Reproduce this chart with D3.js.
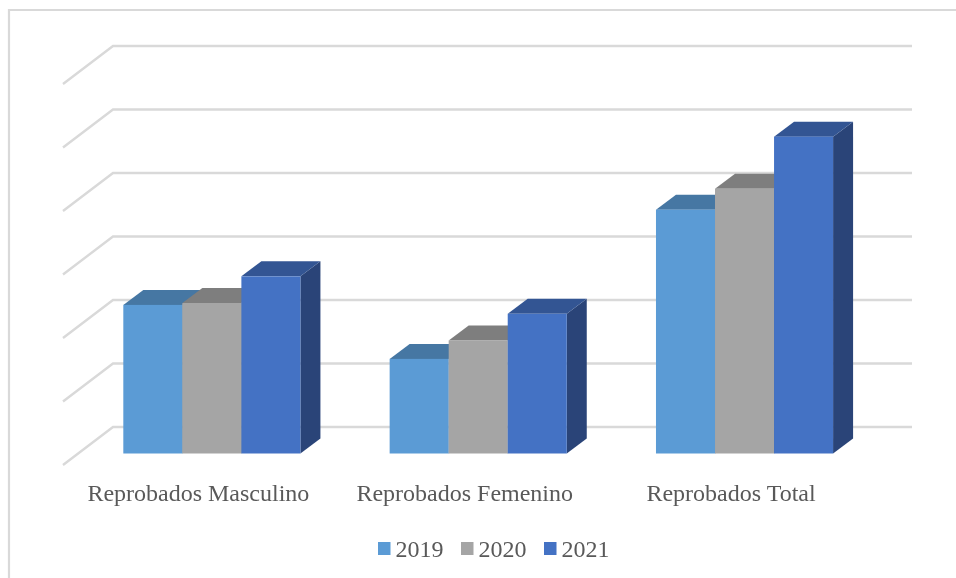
<!DOCTYPE html>
<html><head><meta charset="utf-8">
<style>html,body{margin:0;padding:0;background:#fff}svg{display:block;filter:blur(0.4px)}text{font-family:"Liberation Serif",serif;fill:#595959}</style>
<script src="https://cdn.jsdelivr.net/npm/d3@7/dist/d3.min.js"></script>
</head><body><script>
const categories = ["Reprobados Masculino","Reprobados Femenino","Reprobados Total"];
const seriesNames = ["2019","2020","2021"];
const values2019 = [2.34,1.49,3.84];
const values2020 = [2.37,1.78,4.17];
const values2021 = [2.79,2.20,4.99];
const seriesValues = [values2019,values2020,values2021];
const frontColors = ["#5b9bd5","#a5a5a5","#4472c4"];
const topColors = ["#4677a3","#7e7e7e","#335593"];
const sideColors = ["#3d6d99","#6f6f6f","#2a4478"];
const gridTicks = [0,1,2,3,4,5,6];

const W=956,H=578;
const svg=d3.select("body").append("svg").attr("width",W).attr("height",H);
// outer frame (open on the right and bottom edges)
svg.append("path").attr("d",`M9,${H}V10H${W}`).attr("fill","none").attr("stroke","#d9d9d9").attr("stroke-width",2.2);

const y=d3.scaleLinear().domain([0,6]).range([453.5,72.5]);
const x0=d3.scaleBand().domain(categories).range([78.7,877.7]).paddingInner(.335).paddingOuter(.1675);
const x1=d3.scaleBand().domain(seriesNames).range([0,x0.bandwidth()]);

// projection constants of the 3-D box
const wallDy=-26.5, barDx=20, barDy=-15;
const backRight=912;

svg.append("g").selectAll("path").data(gridTicks).join("path")
  .attr("fill","none").attr("stroke","#d9d9d9").attr("stroke-width",2.4)
  .attr("d",v=>{const yb=y(v)+wallDy;return `M63,${yb+38}L113,${yb}H${backRight}`;});

const groups=svg.append("g").selectAll("g").data(categories).join("g")
  .attr("transform",c=>`translate(${x0(c)},0)`);
seriesNames.forEach((s,si)=>{
  const g=groups.append("g");
  const bx=x1(s),bw=x1.bandwidth();
  g.append("path").attr("fill",sideColors[si]).attr("d",(c,i)=>{
    const t=y(seriesValues[si][i]),b=y(0),r=bx+bw;
    return `M${r},${t}l${barDx},${barDy}V${b+barDy}L${r},${b}Z`;});
  g.append("path").attr("fill",topColors[si]).attr("d",(c,i)=>{
    const t=y(seriesValues[si][i]);
    return `M${bx},${t}l${barDx},${barDy}h${bw}l${-barDx},${-barDy}Z`;});
  g.append("rect").attr("x",bx).attr("width",bw).attr("fill",frontColors[si])
    .attr("y",(c,i)=>y(seriesValues[si][i])).attr("height",(c,i)=>y(0)-y(seriesValues[si][i]));
});

const axis=d3.axisBottom(x0).tickSize(0).tickPadding(0);
const ax=svg.append("g").attr("transform","translate(-13.5,501)").call(axis);
ax.select(".domain").remove();
ax.selectAll("text").attr("font-size",24).attr("font-family",null).attr("fill",null).attr("y",0).attr("dy",0);

const legendX=d3.scalePoint().domain(seriesNames).range([378,544]);
const lg=svg.append("g").selectAll("g").data(seriesNames).join("g")
  .attr("transform",s=>`translate(${legendX(s)},542)`);
lg.append("rect").attr("width",12.5).attr("height",13).attr("fill",(s,i)=>frontColors[i]);
lg.append("text").attr("x",17.5).attr("y",14.7).attr("font-size",24).text(s=>s);
</script></body></html>
